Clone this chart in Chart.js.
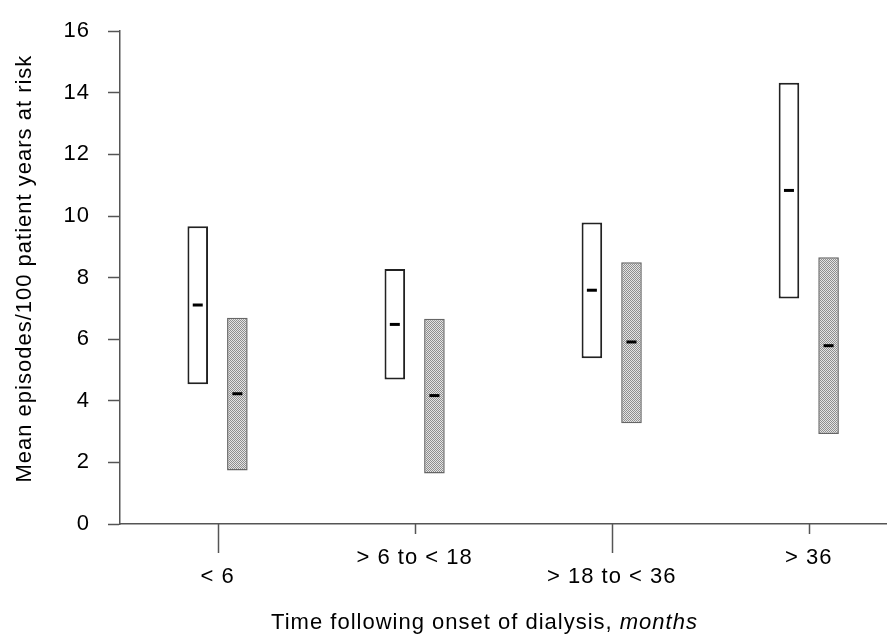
<!DOCTYPE html>
<html>
<head>
<meta charset="utf-8">
<script src="https://cdn.jsdelivr.net/npm/chart.js@4.4.1/dist/chart.umd.min.js"></script>
<style>
  body { margin: 0; background: #fff; }
  canvas { display: block; }
</style>
</head>
<body>
<canvas id="chart" width="887" height="637"></canvas>
<script>
// values
const categories = ['< 6', '> 6 to < 18', '> 18 to < 36', '> 36'];
const whiteLow  = [4.54, 4.69, 5.38, 7.32];
const whiteHigh = [9.67, 8.28, 9.79, 14.33];
const whiteMean = [7.11, 6.48, 7.59, 10.83];
const greyLow   = [1.74, 1.64, 3.27, 2.92];
const greyHigh  = [6.70, 6.66, 8.50, 8.66];
const greyMean  = [4.23, 4.17, 5.91, 5.79];
const yMin = 0, yMax = 16, yStep = 2;

const FONT = "'Liberation Sans', Arial, Helvetica, sans-serif";
const AXIS = '#555';
const INK = '#000';

function stipple() {
    var c = document.createElement('canvas');
    c.width = 2; c.height = 2;
    var g = c.getContext('2d');
    g.fillStyle = '#e4e4e4';
    g.fillRect(0, 0, 2, 2);
    g.fillStyle = '#8e8e8e';
    g.fillRect(0, 0, 1, 1);
    g.fillRect(1, 1, 1, 1);
    return g.createPattern(c, 'repeat');
}

function ranges(lo, hi) {
    return categories.map((c, i) => ({ x: i, y: [lo[i], hi[i]] }));
}

const means = [whiteMean, greyMean];

const spacing = {
    id: 'spacing',
    beforeLayout(chart) { chart.ctx.letterSpacing = '1px'; },
    beforeDraw(chart) { chart.ctx.letterSpacing = '1px'; }
};

const marks = {
    id: 'marks',
    afterDatasetsDraw(chart) {
        const ctx = chart.ctx;
        const y = chart.scales.y;
        ctx.save();
        ctx.strokeStyle = '#000';
        ctx.lineWidth = 3;
        means.forEach((m, d) => {
            chart.getDatasetMeta(d).data.forEach((bar, i) => {
                const py = y.getPixelForValue(m[i]);
                ctx.beginPath();
                ctx.moveTo(bar.x - 5, py);
                ctx.lineTo(bar.x + 5, py);
                ctx.stroke();
            });
        });
        ctx.restore();
    },
    afterDraw(chart) {
        const ctx = chart.ctx;
        const x = chart.scales.x;
        const y = chart.scales.y;
        ctx.save();
        // tick marks under the categories, long ones for the lower labels
        ctx.strokeStyle = AXIS;
        ctx.lineWidth = 1.5;
        categories.forEach((c, i) => {
            const px = Math.round(x.getPixelForValue(i)) + 0.5;
            ctx.beginPath();
            ctx.moveTo(px, x.top);
            ctx.lineTo(px, x.top + (i % 2 === 0 ? 29 : 10));
            ctx.stroke();
        });
        ctx.letterSpacing = '1px';
        ctx.fillStyle = INK;
        ctx.textBaseline = 'middle';

        // y title
        ctx.save();
        ctx.font = '22px ' + FONT;
        ctx.textAlign = 'center';
        ctx.translate(25, (y.top + y.bottom) / 2 - 9);
        ctx.rotate(-Math.PI / 2);
        ctx.fillText('Mean episodes/100 patient years at risk', 0, 0);
        ctx.restore();

        // x title with italic unit
        const a = 'Time following onset of dialysis, ';
        const b = 'months';
        ctx.font = '22px ' + FONT;
        const wa = ctx.measureText(a).width;
        ctx.font = 'italic 22px ' + FONT;
        const wb = ctx.measureText(b).width;
        const cx = (x.left + x.right) / 2 - 19;
        const ty = x.bottom - 14;
        let sx = cx - (wa + wb) / 2;
        ctx.font = '22px ' + FONT;
        ctx.fillText(a, sx, ty);
        ctx.font = 'italic 22px ' + FONT;
        ctx.fillText(b, sx + wa, ty);
        ctx.restore();
    }
};

new Chart(document.getElementById('chart'), {
    type: 'bar',
    data: {
        datasets: [
            {
                label: 'white',
                data: ranges(whiteLow, whiteHigh),
                backgroundColor: '#fff',
                borderColor: '#222',
                borderWidth: 2,
                borderSkipped: false
            },
            {
                label: 'grey',
                data: ranges(greyLow, greyHigh),
                backgroundColor: stipple(),
                borderColor: '#666',
                borderWidth: 1.5,
                borderSkipped: false
            }
        ]
    },
    options: {
        responsive: false,
        animation: false,
        devicePixelRatio: 1,
        categoryPercentage: 0.402,
        barPercentage: 0.52,
        layout: { padding: { top: 22, right: 0, bottom: 0, left: 0 } },
        plugins: {
            legend: { display: false },
            tooltip: { enabled: false }
        },
        scales: {
            x: {
                type: 'linear',
                offset: false,
                min: -0.495,
                max: 3.397,
                afterFit: (s) => { s.height = 113; },
                afterBuildTicks: (s) => { s.ticks = categories.map((c, i) => ({ value: i })); },
                border: { color: AXIS, width: 1.5 },
                grid: { display: true, drawOnChartArea: false, drawTicks: false, offset: false },
                ticks: {
                    autoSkip: false,
                    maxRotation: 0,
                    padding: 24.5,
                    color: INK,
                    font: { family: FONT, size: 22, lineHeight: 0.86 },
                    callback: (v, i) => i % 2 === 0 ? ['', categories[i]] : categories[i]
                }
            },
            y: {
                min: yMin,
                max: yMax,
                afterFit: (s) => { s.width = 120; },
                border: { color: AXIS, width: 1.5 },
                grid: { drawOnChartArea: false, tickLength: 12, tickColor: AXIS, tickWidth: 1.5 },
                ticks: {
                    stepSize: yStep,
                    padding: 18,
                    color: INK,
                    font: { family: FONT, size: 22 }
                }
            }
        }
    },
    plugins: [spacing, marks]
});
</script>
</body>
</html>
